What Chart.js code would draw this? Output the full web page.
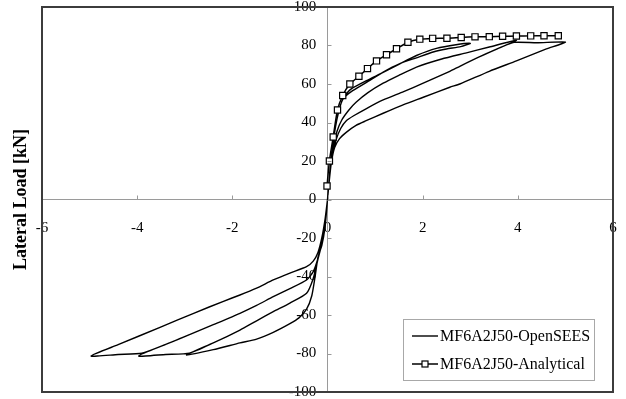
<!DOCTYPE html>
<html>
<head>
<meta charset="utf-8">
<script src="https://cdn.jsdelivr.net/npm/chart.js@4.4.0/dist/chart.umd.min.js"></script>
<style>
  html, body { margin: 0; padding: 0; background: #fff; }
  #wrap { width: 626px; height: 399px; }
</style>
</head>
<body>
<div id="wrap"><canvas id="hysteresisChart" width="626" height="399"></canvas></div>
<script>
// Lateral displacement / lateral load
// OpenSEES hysteresis path, branch by branch (cycles at 3, 4, 5)
const openseesDisp = [
  0, 0.04, 0.08, 0.12, 0.17, 0.23, 0.33, 0.5, 0.82, 1.17, 1.52, 1.87, 2.29, 2.7, 3.0,
  2.8, 2.5, 2.22, 1.87, 1.52, 1.17, 0.82, 0.5, 0.33, 0.23, 0.16, 0.1, 0.05, 0,
  -0.05, -0.12, -0.2, -0.26, -0.33, -0.44, -0.6, -0.79, -1.14, -1.49, -1.84, -2.4, -2.96,
  -2.75, -2.4, -1.84, -1.49, -1.14, -0.79, -0.44, -0.3, -0.2, -0.12, -0.05, 0,
  0.05, 0.1, 0.15, 0.2, 0.3, 0.45, 0.6, 0.85, 1.17, 1.5, 1.87, 2.4, 2.92, 3.4, 3.97,
  3.6, 3.2, 2.78, 2.57, 2.0, 1.6, 1.17, 0.8, 0.55, 0.4, 0.28, 0.18, 0.1, 0.05, 0,
  -0.05, -0.12, -0.2, -0.3, -0.44, -0.79, -1.14, -1.49, -1.84, -2.4, -2.9, -3.4, -3.97,
  -3.4, -2.9, -2.4, -1.84, -1.49, -1.14, -0.79, -0.44, -0.3, -0.2, -0.12, -0.05, 0,
  0.05, 0.1, 0.18, 0.28, 0.4, 0.55, 0.8, 1.17, 1.6, 2.0, 2.57, 2.78, 3.2, 3.6, 3.92, 4.4, 5.0,
  4.6, 3.97, 3.4, 2.78, 2.57, 2.0, 1.6, 1.17, 0.8, 0.6, 0.4, 0.25, 0.15, 0.08, 0.03, 0,
  -0.05, -0.12, -0.2, -0.3, -0.44, -0.79, -1.14, -1.49, -1.84, -2.4, -2.9, -3.4, -3.9, -4.4, -4.97,
  -4.4, -3.52, -2.8, -2.2, -1.84, -1.49, -1.14, -0.79, -0.44, -0.3, -0.2, -0.12, -0.05, 0
];
const openseesLoad = [
  0, 12, 22, 30, 38, 45, 53, 57.5, 61.8, 66, 70.5, 74.8, 78.5, 80.4, 81.1,
  79.4, 78.2, 76.6, 73.6, 70.6, 66.2, 60.8, 56, 52.4, 45.5, 37, 27, 15, 0,
  -14, -24, -30, -40, -50, -57, -61.5, -64.5, -69, -72.5, -74.5, -78, -80.8,
  -78.2, -74.5, -67.8, -63, -58.3, -53.8, -48.7, -41, -31, -23, -12, 0,
  14, 24, 30, 35.5, 41.3, 46.5, 50.5, 55.5, 60.4, 64.5, 68.8, 73, 76.2, 79.2, 82.7,
  78.6, 74.2, 69.2, 66.6, 60.3, 56, 51.7, 47, 43.5, 41, 37, 31, 23, 13, 0,
  -12, -23, -31, -41, -48.7, -53.8, -58.3, -63, -67.8, -74.5, -79.8, -80.5, -81.3,
  -75.3, -70.2, -65, -59.1, -55, -50.5, -46.3, -41.8, -37.5, -30.5, -22, -11, 0,
  13, 23, 31, 37, 41, 43.5, 47, 51.7, 56, 60.3, 66.6, 69.2, 74.2, 78.6, 81.6, 81.4, 81.8,
  78.2, 72, 66.6, 60, 58.3, 53, 49.3, 44.8, 40.8, 38.5, 35, 31.5, 27, 19, 8, 0,
  -11, -22, -30.5, -37.5, -41.8, -46.3, -50.5, -55, -59.1, -65, -70.2, -75.3, -79.9, -80.5, -81.3,
  -75.4, -66.4, -59, -53, -49.6, -46, -41.8, -38.2, -34.9, -32, -27.5, -20, -10, 0
];
// analytical envelope (square markers)
const analyticalDisp = [-0.01, 0.04, 0.12, 0.21, 0.32, 0.47, 0.66, 0.84, 1.03, 1.24, 1.45, 1.69,
  1.94, 2.21, 2.51, 2.81, 3.10, 3.40, 3.68, 3.97, 4.27, 4.55, 4.85];
const analyticalLoad = [7, 20, 32.5, 46.5, 54, 60, 64, 68, 72, 75.2, 78.3, 81.7,
  83.3, 83.7, 83.8, 84.2, 84.5, 84.6, 84.8, 84.9, 85, 85.1, 85.1];

const xTicks = [-6, -4, -2, 0, 2, 4, 6];
const yTicks = [-100, -80, -60, -40, -20, 0, 20, 40, 60, 80, 100];
const seriesLabels = ['MF6A2J50-OpenSEES', 'MF6A2J50-Analytical'];
const yAxisTitle = 'Lateral Load [kN]';

const toPoints = (xs, ys) => xs.map((x, i) => ({ x: x, y: ys[i] }));
const serif = 'Liberation Serif, Times New Roman, serif';

// the crossing axes should not push the plot area inwards
const noEdgePadding = axis => {
  axis.paddingTop = 0; axis.paddingBottom = 0;
  axis.paddingLeft = 0; axis.paddingRight = 0;
};

// frame, tick marks, axis title and legend drawn on top of the chart
const excelLook = {
  id: 'excelLook',
  afterDraw(chart) {
    const { ctx, chartArea: area, scales: { x, y } } = chart;
    const x0 = x.getPixelForValue(0);
    const y0 = y.getPixelForValue(0);
    ctx.save();

    // small tick marks on the crossing axes
    ctx.strokeStyle = '#9a9a9a';
    ctx.lineWidth = 1;
    ctx.beginPath();
    xTicks.forEach(v => {
      const px = Math.round(x.getPixelForValue(v)) + 0.5;
      ctx.moveTo(px, y0); ctx.lineTo(px, y0 - 4);
    });
    yTicks.forEach(v => {
      const py = Math.round(y.getPixelForValue(v)) + 0.5;
      ctx.moveTo(x0, py); ctx.lineTo(x0 + 4, py);
    });
    ctx.stroke();

    // plot frame
    ctx.strokeStyle = '#3c3c3c';
    ctx.lineWidth = 2;
    ctx.strokeRect(area.left, area.top, area.right - area.left, area.bottom - area.top);

    // y axis title
    ctx.save();
    ctx.translate(21, (area.top + area.bottom) / 2);
    ctx.rotate(-Math.PI / 2);
    ctx.fillStyle = '#000';
    ctx.font = 'bold 18px ' + serif;
    ctx.textAlign = 'center';
    ctx.textBaseline = 'middle';
    ctx.fillText(yAxisTitle, 0, 0);
    ctx.restore();

    // legend box
    const lw = 191, lh = 61;
    const lx = area.right - 19 - lw;
    const ly = area.bottom - 12 - lh;
    ctx.fillStyle = '#fff';
    ctx.fillRect(lx, ly, lw, lh);
    ctx.strokeStyle = '#a8a8a8';
    ctx.lineWidth = 1;
    ctx.strokeRect(lx + 0.5, ly + 0.5, lw, lh);
    ctx.font = '16px ' + serif;
    ctx.textBaseline = 'middle';
    ctx.textAlign = 'left';
    chart.data.datasets.forEach((ds, i) => {
      const ry = ly + 17 + i * 28;
      ctx.strokeStyle = '#000';
      ctx.lineWidth = ds.borderWidth;
      ctx.beginPath();
      ctx.moveTo(lx + 9, ry); ctx.lineTo(lx + 35, ry);
      ctx.stroke();
      if (ds.pointRadius > 0) {
        ctx.fillStyle = '#fff';
        ctx.lineWidth = 1.2;
        ctx.fillRect(lx + 19, ry - 3, 6, 6);
        ctx.strokeRect(lx + 19, ry - 3, 6, 6);
      }
      ctx.fillStyle = '#000';
      ctx.fillText(ds.label, lx + 37, ry + 1);
    });
    ctx.restore();
  }
};

const chart = new Chart(document.getElementById('hysteresisChart'), {
  type: 'scatter',
  data: {
    datasets: [{
      label: seriesLabels[0],
      data: toPoints(openseesDisp, openseesLoad),
      showLine: true,
      borderColor: '#000',
      borderWidth: 1.4,
      pointRadius: 0,
      tension: 0.2,
      order: 1
    }, {
      label: seriesLabels[1],
      data: toPoints(analyticalDisp, analyticalLoad),
      showLine: true,
      borderColor: '#000',
      borderWidth: 1.5,
      pointStyle: 'rect',
      pointRadius: 4.4,
      pointBorderWidth: 1.2,
      pointBackgroundColor: '#fff',
      pointBorderColor: '#000',
      tension: 0.2,
      order: 0
    }]
  },
  options: {
    responsive: false,
    animation: false,
    layout: { padding: { left: 42, right: 13, top: 7, bottom: 7 } },
    plugins: {
      legend: { display: false },
      tooltip: { enabled: false }
    },
    scales: {
      x: {
        type: 'linear',
        position: { y: 0 },
        min: -6,
        max: 6,
        grid: { display: false, drawTicks: false },
        border: { display: true, color: '#9a9a9a', width: 1 },
        afterBuildTicks: axis => { axis.ticks = xTicks.map(v => ({ value: v })); },
        afterFit: noEdgePadding,
        ticks: {
          autoSkip: false,
          maxRotation: 0,
          padding: 20,
          color: '#000',
          font: { family: serif, size: 15 }
        }
      },
      y: {
        type: 'linear',
        position: { x: 0 },
        min: -100,
        max: 100,
        grid: { display: false, drawTicks: false },
        border: { display: true, color: '#9a9a9a', width: 1 },
        afterBuildTicks: axis => { axis.ticks = yTicks.map(v => ({ value: v })); },
        afterFit: noEdgePadding,
        ticks: {
          autoSkip: false,
          color: '#000',
          font: { family: serif, size: 15 },
          // trailing spaces keep the right-aligned labels off the axis line
          callback: value => value + '   '
        }
      }
    }
  },
  plugins: [excelLook]
});
</script>
</body>
</html>
